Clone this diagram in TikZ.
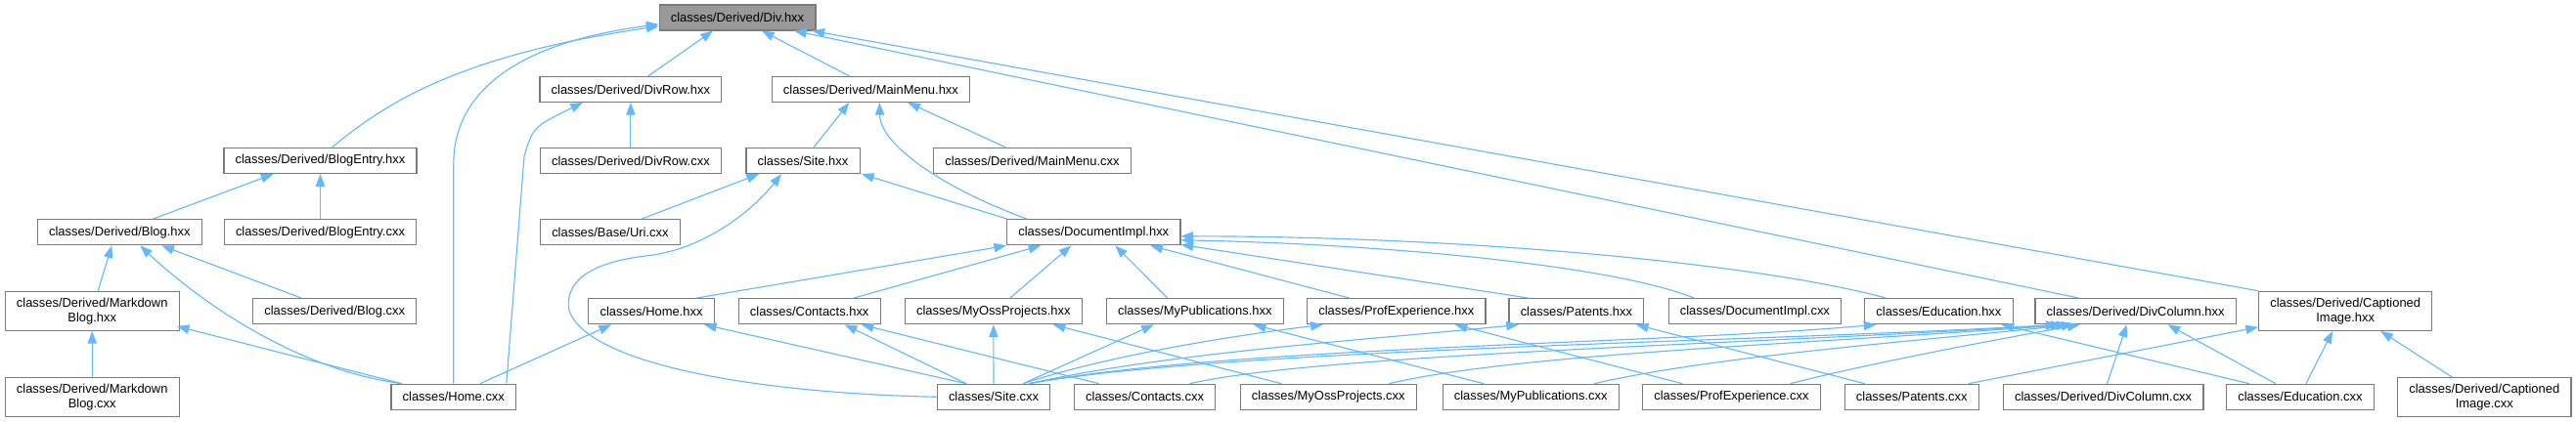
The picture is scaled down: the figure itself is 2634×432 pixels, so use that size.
\documentclass[tikz,border=0pt]{standalone}
\usepackage{fontspec}
\setmainfont{Liberation Sans}
\usepackage{tikz}
\usetikzlibrary{arrows.meta,calc}
\definecolor{dxedge}{RGB}{99,184,255}
\definecolor{dxborder}{RGB}{122,122,122}
\definecolor{dxroot}{RGB}{153,153,153}

\begin{document}
\begin{tikzpicture}[
  x=0.75pt, y=-0.75pt,
  every node/.style={font=\fontsize{9.7}{11.3}\selectfont},
  file/.style={draw=dxborder, line width=0.9pt, fill=white,
               inner xsep=8.8pt, inner ysep=2pt,
               minimum height=19.5pt, align=center},
  twoline/.style={file, minimum height=30pt},
  root/.style={file, fill=dxroot},
  arrow/.style={-{Triangle[length=9.5pt,width=7pt]}, line width=0.85pt, dxedge},
]
\useasboundingbox (0,0) rectangle (2634,432);

%% ── Headers ───────────────────────────────────────────────────────────────
\node[root] (DIVH)     at (754,17.9)    {classes/Derived/Div.hxx};
\node[file] (DIVROWH)  at (644.9,91.4)  {classes/Derived/DivRow.hxx};
\node[file] (MENUH)    at (890.4,91.4)  {classes/Derived/MainMenu.hxx};
\node[file] (BLOGENTH) at (327.5,164.5) {classes/Derived/BlogEntry.hxx};
\node[file] (SITEH)    at (821,164.5)   {classes/Site.hxx};
\node[file] (BLOGH)    at (122.3,237.8) {classes/Derived/Blog.hxx};
\node[file] (DOCH)     at (1118.3,237.8){classes/DocumentImpl.hxx};
\node[twoline] (MDBLOGH) at (94.2,318.3) {classes/Derived/Markdown\\Blog.hxx};
\node[file] (HOMEH)    at (666,318.7)   {classes/Home.hxx};
\node[file] (CONTH)    at (827.7,318.7) {classes/Contacts.hxx};
\node[file] (OSSH)     at (1015.8,318.7){classes/MyOssProjects.hxx};
\node[file] (PUBH)     at (1221.8,318.7){classes/MyPublications.hxx};
\node[file] (PROFH)    at (1427.8,318.7){classes/ProfExperience.hxx};
\node[file] (PATH)     at (1611.9,318.7){classes/Patents.hxx};
\node[file] (EDUH)     at (1982.4,318.7){classes/Education.hxx};
\node[file] (DIVCOLH)  at (2183.6,318.7){classes/Derived/DivColumn.hxx};
\node[twoline] (CAPH)  at (2398.2,318.3){classes/Derived/Captioned\\Image.hxx};

%% ── Sources ───────────────────────────────────────────────────────────────
\node[file] (DIVROWC)  at (644.9,164.5) {classes/Derived/DivRow.cxx};
\node[file] (MENUC)    at (1055.5,164.5){classes/Derived/MainMenu.cxx};
\node[file] (BLOGENTC) at (327.5,237.8) {classes/Derived/BlogEntry.cxx};
\node[file] (URIC)     at (623.9,237.8) {classes/Base/Uri.cxx};
\node[file] (BLOGC)    at (342.2,318.7) {classes/Derived/Blog.cxx};
\node[file] (DOCC)     at (1794.4,318.7){classes/DocumentImpl.cxx};
\node[twoline] (MDBLOGC) at (94.2,406.7) {classes/Derived/Markdown\\Blog.cxx};
\node[file] (HOMEC)    at (463.8,406.3) {classes/Home.cxx};
\node[file] (SITEC)    at (1016,406.3)  {classes/Site.cxx};
\node[file] (CONTC)    at (1170.6,406.3){classes/Contacts.cxx};
\node[file] (OSSC)     at (1358.3,406.3){classes/MyOssProjects.cxx};
\node[file] (PUBC)     at (1565.2,406.3){classes/MyPublications.cxx};
\node[file] (PROFC)    at (1770.4,406.3){classes/ProfExperience.cxx};
\node[file] (PATC)     at (1954.7,406.3){classes/Patents.cxx};
\node[file] (DIVCOLC)  at (2150.6,406.3){classes/Derived/DivColumn.cxx};
\node[file] (EDUC)     at (2351.9,406.3){classes/Education.cxx};
\node[twoline] (CAPC)  at (2540.3,406.7){classes/Derived/Captioned\\Image.cxx};

%% ── Includes of Div.hxx ───────────────────────────────────────────────────
\draw[arrow] ($(DIVROWH.north)+(18,0)$) -- ($(DIVH.south)+(-25,0)$);
\draw[arrow] ($(MENUH.north)+(-22,0)$) -- ($(DIVH.south)+(25,0)$);
\draw[arrow] ($(BLOGENTH.north)+(12,0)$) .. controls (400,100) and (480,55) .. ($(DIVH.west)+(0,9)$);
\draw[arrow] (HOMEC.north) -- ++(0,-225) .. controls +(0,-80) and (540,42) .. ($(DIVH.west)+(0,7)$);
\draw[arrow] ($(DIVCOLH.north)+(-58,0)$) -- ($(DIVH.south)+(58,0)$);
\draw[arrow] (CAPH.north west) -- ($(DIVH.south east)+(-4,0)$);

%% ── DivRow.hxx / MainMenu.hxx ─────────────────────────────────────────────
\draw[arrow] (DIVROWC) -- (DIVROWH);
\draw[arrow] ($(HOMEC.north)+(54,0)$) -- (536,160) .. controls (545,130) .. ($(DIVROWH.south)+(-49,0)$);
\draw[arrow] ($(SITEH.north)+(11,0)$) -- ($(MENUH.south)+(-22,0)$);
\draw[arrow] ($(MENUC.north)+(-27,0)$) -- ($(MENUH.south)+(38,0)$);
\draw[arrow] ($(DOCH.north)+(-68,0)$) .. controls (970,195) and (900,150) .. ($(MENUH.south)+(9,0)$);

%% ── BlogEntry.hxx / Site.hxx ──────────────────────────────────────────────
\draw[arrow] ($(BLOGH.north)+(34,0)$) -- ($(BLOGENTH.south)+(-48,0)$);
\draw[arrow] (BLOGENTC) -- (BLOGENTH);
\draw[arrow] ($(URIC.north)+(32,0)$) -- ($(SITEH.south)+(-45,0)$);
% Site.cxx goes round Home.hxx and Uri.cxx
\draw[arrow] (SITEC.west) .. controls (760,402) and (600,370) .. (582,318)
  .. controls (576,285) and (610,268) .. (660,262)
  .. controls (720,256) and (770,215) .. ($(SITEH.south)+(-22,0)$);
\draw[arrow] ($(DOCH.north)+(-88,0)$) -- ($(SITEH.south)+(60,0)$);

%% ── Blog.hxx / MarkdownBlog.hxx ───────────────────────────────────────────
\draw[arrow] ($(MDBLOGH.north)+(6,0)$) -- ($(BLOGH.south)+(-8,0)$);
\draw[arrow] ($(HOMEC.north)+(-53,0)$) .. controls (300,378) and (200,305) .. ($(BLOGH.south)+(21,0)$);
\draw[arrow] ($(BLOGC.north)+(-34,0)$) -- ($(BLOGH.south)+(43,0)$);
\draw[arrow] (MDBLOGC) -- (MDBLOGH);
\draw[arrow] ($(HOMEC.north)+(-53,0)$) -- ($(MDBLOGH.south east)+(-3,-5)$);

%% ── DocumentImpl.hxx ──────────────────────────────────────────────────────
\draw[arrow] ($(HOMEH.north)+(46,0)$) -- (DOCH.south west);
\draw[arrow] ($(CONTH.north)+(45,0)$) -- ($(DOCH.south)+(-54,0)$);
\draw[arrow] ($(OSSH.north)+(17,0)$) -- ($(DOCH.south)+(-23,0)$);
\draw[arrow] ($(PUBH.north)+(-28,0)$) -- ($(DOCH.south)+(22,0)$);
\draw[arrow] ($(PROFH.north)+(-48,0)$) -- ($(DOCH.south)+(58,0)$);
\draw[arrow] ($(PATH.north)+(-49,0)$) -- ($(DOCH.south east)+(0,-1)$);
\draw[arrow] ($(DOCC.north)+(-62,0)$) .. controls (1650,272) and (1420,250) .. ($(DOCH.east)+(0,8)$);
\draw[arrow] ($(EDUH.north)+(-54,0)$) .. controls (1800,270) and (1500,242) .. ($(DOCH.east)+(0,4)$);

%% ── Page headers ──────────────────────────────────────────────────────────
\draw[arrow] ($(HOMEC.north)+(27,0)$) -- ($(HOMEH.south)+(-41,0)$);
\draw[arrow] ($(SITEC.north)+(-28,0)$) -- ($(HOMEH.south)+(54,0)$);
\draw[arrow] ($(SITEC.north)+(-28,0)$) -- ($(CONTH.south)+(36,0)$);
\draw[arrow] ($(CONTC.north)+(-47,0)$) -- ($(CONTH.south)+(53,0)$);
\draw[arrow] (SITEC) -- (OSSH);
\draw[arrow] ($(OSSC.north)+(-48,0)$) -- ($(OSSH.south)+(61,0)$);
\draw[arrow] ($(SITEC.north)+(30,0)$) -- ($(PUBH.south)+(-42,0)$);
\draw[arrow] ($(PUBC.north)+(-48,0)$) -- ($(PUBH.south)+(60,0)$);
\draw[arrow] ($(SITEC.north)+(30,0)$) .. controls (1130,365) and (1250,345) .. ($(PROFH.south)+(-75,0)$);
\draw[arrow] ($(PROFC.north)+(-50,0)$) -- ($(PROFH.south)+(60,0)$);
\draw[arrow] ($(SITEC.north)+(36,0)$) .. controls (1200,360) and (1400,348) .. ($(PATH.south)+(-59,0)$);
\draw[arrow] ($(PATC.north)+(-48,0)$) -- ($(PATH.south)+(61,0)$);
\draw[arrow] ($(SITEC.north)+(36,0)$) .. controls (1250,355) and (1700,352) .. ($(EDUH.south)+(-64,0)$);
\draw[arrow] ($(EDUC.north)+(-52,0)$) -- ($(EDUH.south)+(64,0)$);

%% ── DivColumn.hxx ─────────────────────────────────────────────────────────
\draw[arrow] ($(SITEC.north)+(36,0)$) .. controls (1250,357) and (1800,350) .. ($(DIVCOLH.south)+(-79,0)$);
\draw[arrow] ($(CONTC.north)+(46,0)$) .. controls (1350,362) and (1800,352) .. ($(DIVCOLH.south)+(-74,0)$);
\draw[arrow] ($(OSSC.north)+(62,0)$) .. controls (1550,362) and (1850,352) .. ($(DIVCOLH.south)+(-68,0)$);
\draw[arrow] ($(PUBC.north)+(65,0)$) .. controls (1750,365) and (1950,350) .. ($(DIVCOLH.south)+(-63,0)$);
\draw[arrow] ($(PROFC.north)+(60,0)$) .. controls (1900,375) and (2000,355) .. ($(DIVCOLH.south)+(-57,0)$);
\draw[arrow] ($(DIVCOLC.north)+(4,0)$) -- ($(DIVCOLH.south)+(-9,0)$);
\draw[arrow] ($(EDUC.north)+(-25,0)$) -- ($(DIVCOLH.south)+(33,0)$);

%% ── CaptionedImage.hxx ────────────────────────────────────────────────────
\draw[arrow] ($(PATC.north)+(58,0)$) -- ($(CAPH.south west)+(0,-4)$);
\draw[arrow] ($(EDUC.north)+(6,0)$) -- ($(CAPH.south)+(-13,0)$);
\draw[arrow] ($(CAPC.north)+(-33,0)$) -- ($(CAPH.south)+(36,0)$);

\end{tikzpicture}
\end{document}
